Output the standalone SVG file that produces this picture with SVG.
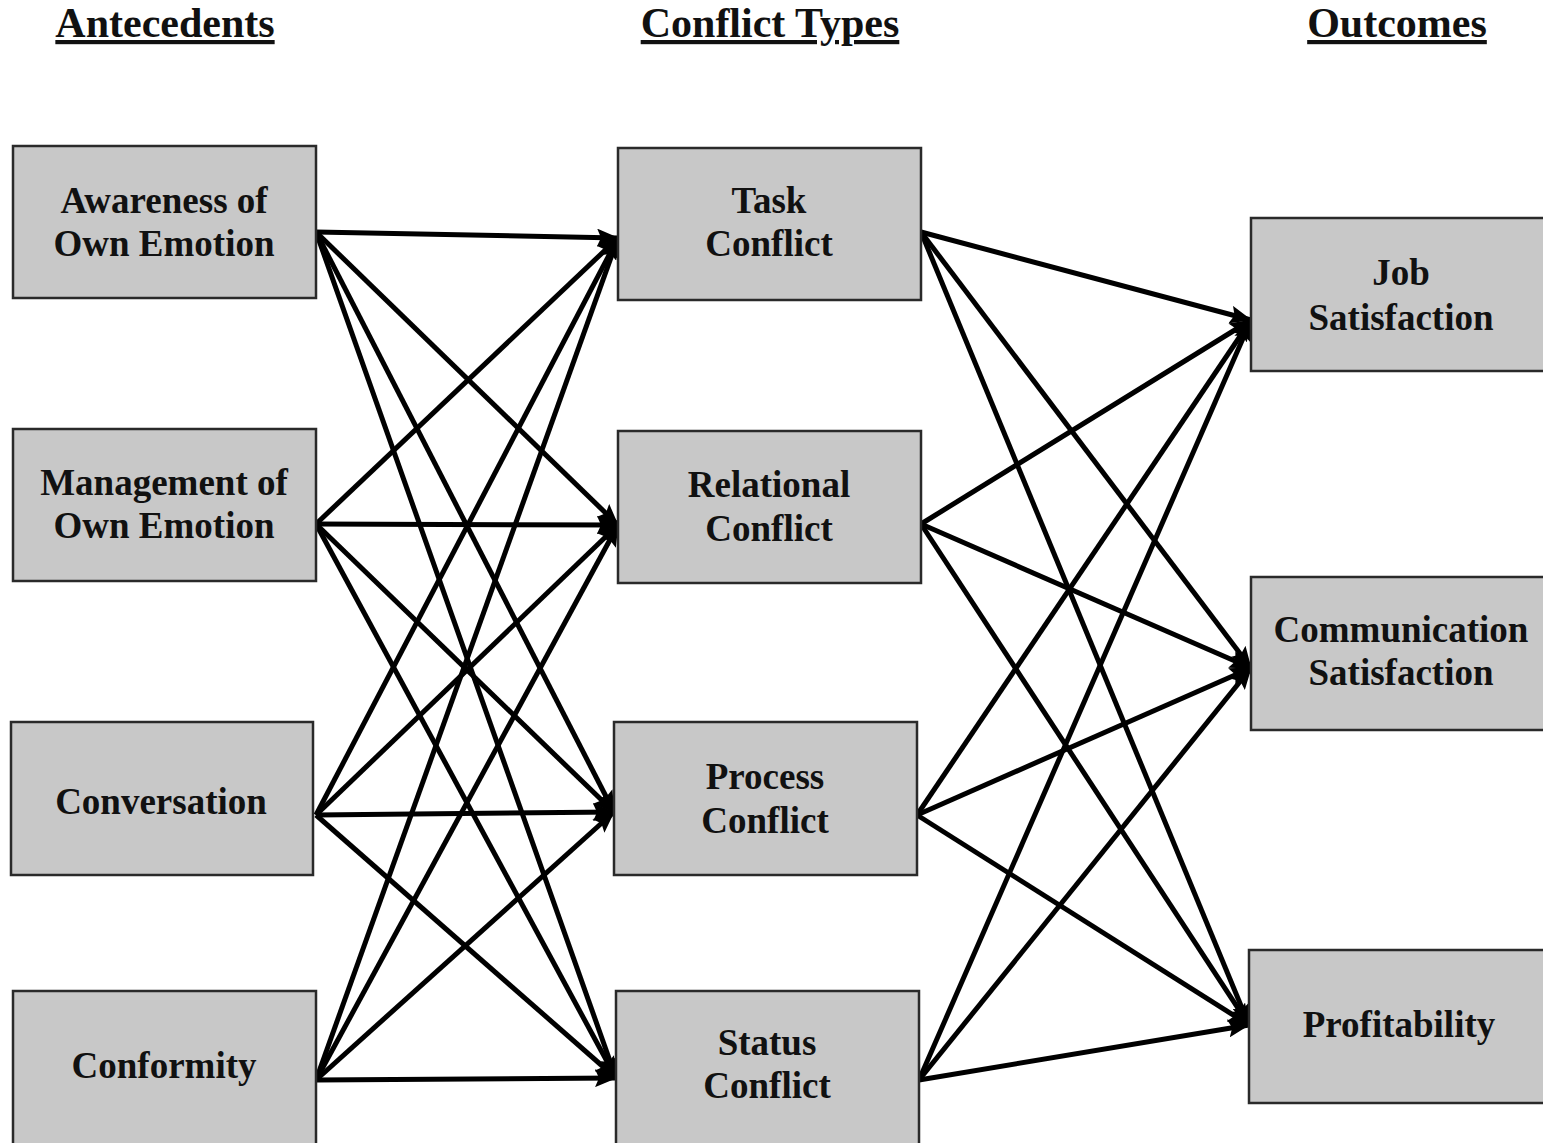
<svg xmlns="http://www.w3.org/2000/svg" width="1543" height="1143" viewBox="0 0 1543 1143">
<style>
.box{fill:#c8c8c8;stroke:#2a2a2a;stroke-width:2.5}
.t{font-family:"Liberation Serif","Times New Roman",serif;font-weight:bold;font-size:37px;fill:#111;text-anchor:middle}
.h{font-family:"Liberation Serif","Times New Roman",serif;font-weight:bold;font-size:42px;fill:#111;text-anchor:middle;text-decoration:underline}
.c line{stroke:#000;stroke-width:5;marker-end:url(#ah)}
</style>
<defs>
<marker id="ah" markerUnits="userSpaceOnUse" viewBox="0 0 22 18" markerWidth="22" markerHeight="18" refX="21" refY="9" orient="auto">
<path d="M0,0 L22,9 L0,18 L4,9 z" fill="#000"/>
</marker>
</defs>
<rect width="1543" height="1143" fill="#fff"/>
<g id="headers">
<text class="h" x="165" y="37">Antecedents</text>
<text class="h" x="770" y="37">Conflict Types</text>
<text class="h" x="1397" y="37">Outcomes</text>
</g>
<g class="c" id="connectors">
<line x1="316" y1="232" x2="618" y2="238"/>
<line x1="316" y1="232" x2="618" y2="525"/>
<line x1="316" y1="232" x2="614" y2="812"/>
<line x1="316" y1="232" x2="616" y2="1078"/>
<line x1="316" y1="524" x2="618" y2="238"/>
<line x1="316" y1="524" x2="618" y2="525"/>
<line x1="316" y1="524" x2="614" y2="812"/>
<line x1="316" y1="524" x2="616" y2="1078"/>
<line x1="316" y1="815" x2="618" y2="238"/>
<line x1="316" y1="815" x2="618" y2="525"/>
<line x1="316" y1="815" x2="614" y2="812"/>
<line x1="316" y1="815" x2="616" y2="1078"/>
<line x1="316" y1="1080" x2="618" y2="238"/>
<line x1="316" y1="1080" x2="618" y2="525"/>
<line x1="316" y1="1080" x2="614" y2="812"/>
<line x1="316" y1="1080" x2="616" y2="1078"/>
<line x1="921" y1="232" x2="1251" y2="320"/>
<line x1="921" y1="232" x2="1251" y2="668"/>
<line x1="921" y1="232" x2="1249" y2="1025"/>
<line x1="921" y1="524" x2="1251" y2="320"/>
<line x1="921" y1="524" x2="1251" y2="668"/>
<line x1="921" y1="524" x2="1249" y2="1025"/>
<line x1="917" y1="815" x2="1251" y2="320"/>
<line x1="917" y1="815" x2="1251" y2="668"/>
<line x1="917" y1="815" x2="1249" y2="1025"/>
<line x1="919" y1="1080" x2="1251" y2="320"/>
<line x1="919" y1="1080" x2="1251" y2="668"/>
<line x1="919" y1="1080" x2="1249" y2="1025"/>
</g>
<g id="awareness"><rect class="box" x="13" y="146" width="303" height="152"/><text class="t" x="164" y="213">Awareness of</text><text class="t" x="164" y="256">Own Emotion</text></g>
<g id="management"><rect class="box" x="13" y="429" width="303" height="152"/><text class="t" x="164" y="495">Management of</text><text class="t" x="164" y="538">Own Emotion</text></g>
<g id="conversation"><rect class="box" x="11" y="722" width="302" height="153"/><text class="t" x="161" y="814">Conversation</text></g>
<g id="conformity"><rect class="box" x="13" y="991" width="303" height="160"/><text class="t" x="164" y="1078">Conformity</text></g>
<g id="task"><rect class="box" x="618" y="148" width="303" height="152"/><text class="t" x="769" y="213">Task</text><text class="t" x="769" y="256">Conflict</text></g>
<g id="relational"><rect class="box" x="618" y="431" width="303" height="152"/><text class="t" x="769" y="497">Relational</text><text class="t" x="769" y="541">Conflict</text></g>
<g id="process"><rect class="box" x="614" y="722" width="303" height="153"/><text class="t" x="765" y="789">Process</text><text class="t" x="765" y="833">Conflict</text></g>
<g id="status"><rect class="box" x="616" y="991" width="303" height="160"/><text class="t" x="767" y="1055">Status</text><text class="t" x="767" y="1098">Conflict</text></g>
<g id="job"><rect class="box" x="1251" y="218" width="300" height="153"/><text class="t" x="1401" y="285">Job</text><text class="t" x="1401" y="330">Satisfaction</text></g>
<g id="communication"><rect class="box" x="1251" y="577" width="300" height="153"/><text class="t" x="1401" y="642">Communication</text><text class="t" x="1401" y="685">Satisfaction</text></g>
<g id="profitability"><rect class="box" x="1249" y="950" width="300" height="153"/><text class="t" x="1399" y="1037">Profitability</text></g>
</svg>
